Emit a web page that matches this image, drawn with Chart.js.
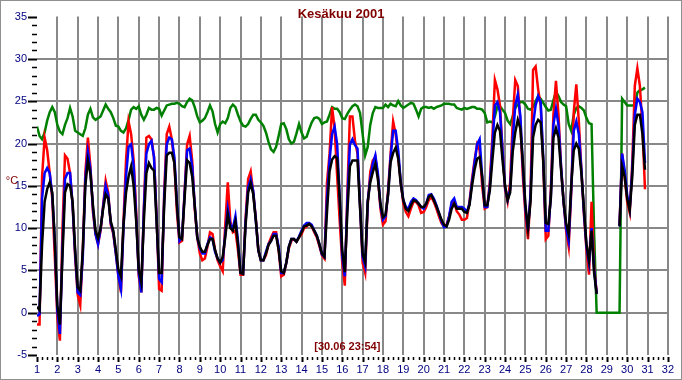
<!DOCTYPE html>
<html><head><meta charset="utf-8">
<script src="https://cdn.jsdelivr.net/npm/chart.js@4.4.0/dist/chart.umd.min.js"></script>
<style>html,body{margin:0;padding:0;background:#fff;overflow:hidden}canvas{display:block}</style>
</head><body>
<canvas id="c" width="682" height="380"></canvas>
<script>
const chartTitle = 'Kesäkuu 2001';
const yTitle = '°C';
const stamp = '[30.06 23:54]';
const days = [1,2,3,4,5,6,7,8,9,10,11,12,13,14,15,16,17,18,19,20,21,22,23,24,25,26,27,28,29,30];
const hours = [0,3,6,9,12,15,18,21];
const xTicks = [1,2,3,4,5,6,7,8,9,10,11,12,13,14,15,16,17,18,19,20,21,22,23,24,25,26,27,28,29,30,31,32];
const yTicks = [-5,0,5,10,15,20,25,30,35];

const blackT = [
0.7,0.3,8.1,13.1,14.6,15.4,14.2,8.5,
0.9,-1.4,6.6,14.2,15.2,15.0,13.1,7.4,
3.0,2.6,7.4,15.0,18.0,16.4,12.7,9.7,
8.8,10.0,12.3,14.0,13.5,10.8,9.7,7.4,
5.1,4.3,10.4,14.2,16.1,17.3,15.0,10.8,
5.1,3.6,10.8,16.5,17.7,17.1,16.8,10.8,
4.7,4.7,12.7,18.6,18.9,18.9,17.7,12.7,
8.9,8.7,13.5,18.0,17.7,16.1,12.7,8.9,
7.8,7.2,7.2,8.0,8.7,8.7,7.4,6.4,
5.9,6.6,8.9,11.6,10.0,9.7,10.8,8.1,
4.7,4.6,10.4,14.2,15.3,14.0,11.0,7.4,
6.2,6.2,7.0,8.0,8.5,9.1,9.1,7.4,
4.9,4.7,5.9,7.8,8.7,8.7,8.4,8.9,
9.5,10.2,10.3,10.5,10.2,9.7,9.1,8.1,
7.0,6.6,11.9,16.7,18.1,18.5,18.3,13.5,
7.4,4.8,11.9,17.3,18.0,18.0,18.0,12.3,
7.0,6.0,13.1,15.4,16.6,17.6,15.8,12.9,
11.3,11.6,13.9,17.8,18.9,19.5,18.2,15.2,
13.3,12.3,12.0,12.7,13.3,13.2,12.9,12.5,
12.5,12.9,13.7,13.9,13.3,12.6,11.8,11.0,
10.4,10.2,11.0,12.3,12.9,12.3,12.3,12.3,
11.9,11.8,12.7,15.0,16.9,18.2,18.4,16.1,
12.7,12.7,14.4,18.0,21.3,22.2,21.5,18.0,
15.0,13.3,14.2,19.0,21.3,22.8,21.8,17.7,
12.7,10.0,13.1,20.7,22.2,22.8,22.5,18.0,
10.6,10.5,13.5,20.7,21.8,20.7,16.9,13.1,
10.6,9.3,15.0,19.2,20.0,19.4,16.5,12.3,
8.1,6.2,9.7,4.7,2.2,null,null,null,
null,null,null,null,null,10.2,17.3,16.1,
13.5,12.1,16.1,22.2,23.4,23.4,21.1,16.9];

const redT = [
-1.4,-1.4,16.1,20.7,19.2,16.5,13.5,6.6,
-0.6,-3.3,9.7,18.6,18.2,16.5,12.7,6.6,
2.1,0.9,7.4,16.5,20.7,17.3,11.9,9.3,
8.1,9.7,12.7,15.6,14.2,10.4,9.3,7.0,
4.3,2.4,10.8,18.0,22.6,21.1,18.0,11.9,
4.3,2.4,12.3,20.7,20.9,20.5,18.4,11.5,
2.8,2.6,14.2,21.1,22.0,20.5,17.7,11.9,
8.3,8.5,14.2,19.9,20.9,18.0,12.3,8.9,
7.0,6.2,6.4,7.8,9.5,9.3,7.4,6.2,
5.5,4.9,10.4,15.4,10.8,9.5,9.7,7.4,
4.5,4.5,11.2,15.8,16.7,14.2,11.2,7.4,
6.2,6.2,6.8,8.1,8.9,9.5,9.5,7.4,
4.3,4.5,5.9,7.6,8.5,8.7,8.4,8.9,
9.3,10.0,10.2,10.5,10.2,9.5,8.9,7.9,
6.8,6.4,15.4,18.8,24.3,21.8,16.1,10.8,
5.9,3.2,14.2,23.2,23.2,20.3,18.8,12.7,
5.9,4.7,12.7,16.6,18.0,18.4,16.1,12.3,
10.4,10.8,14.4,18.8,22.6,21.1,18.4,15.4,
12.9,11.9,11.4,12.3,13.1,13.1,12.7,11.8,
11.9,12.5,13.3,13.7,13.1,12.3,11.4,10.6,
10.2,10.4,11.4,12.7,13.1,12.0,11.6,11.0,
11.0,11.2,13.1,15.8,18.0,19.9,19.2,15.0,
12.3,12.5,15.4,20.7,27.5,26.4,24.5,19.2,
14.6,13.1,15.4,22.6,27.5,26.8,22.6,16.1,
11.6,8.7,13.9,28.7,29.1,26.4,24.5,17.7,
8.7,9.1,14.6,23.4,27.4,23.4,17.3,13.1,
9.7,7.8,14.2,23.7,27.0,22.6,16.9,11.6,
7.4,4.5,13.1,5.5,2.4,null,null,null,
null,null,null,null,null,10.4,18.8,16.1,
13.1,11.8,17.7,26.8,28.9,26.8,21.8,14.6];

const blueT = [
-0.4,-0.2,13.5,16.5,17.1,16.5,13.9,8.5,
0.2,-2.5,7.4,15.8,16.5,16.5,12.7,7.0,
2.4,2.1,6.6,15.8,19.0,16.9,12.3,9.3,
8.1,9.9,12.5,15.0,13.9,10.6,9.5,7.0,
4.3,2.8,10.0,16.1,19.6,19.9,17.3,11.2,
4.7,2.4,12.0,18.8,19.9,20.3,18.4,11.2,
4.0,3.6,13.5,19.9,20.7,20.5,18.4,13.1,
8.5,8.9,13.9,19.2,19.4,17.3,12.7,8.9,
7.6,7.0,7.0,8.1,8.9,8.7,7.2,6.4,
5.9,6.2,9.3,12.3,10.4,10.0,11.4,8.5,
4.7,4.6,10.8,14.8,15.8,14.4,11.0,7.4,
6.2,6.2,7.2,8.1,8.5,9.3,9.3,7.8,
4.7,4.7,5.9,7.8,8.7,8.7,8.4,9.0,
9.7,10.3,10.6,10.6,10.4,9.7,9.1,8.1,
6.9,6.6,13.5,18.0,21.1,22.0,19.9,13.5,
6.6,4.3,13.1,19.9,20.5,19.8,19.4,12.7,
6.6,5.5,13.1,15.8,17.6,18.6,16.5,12.7,
11.0,11.4,14.0,18.4,21.5,21.5,19.2,15.4,
13.3,12.5,12.3,13.1,13.5,13.3,12.9,12.5,
12.3,12.9,13.9,14.0,13.5,12.7,11.8,10.8,
10.1,10.2,11.4,13.1,13.5,12.5,12.5,12.5,
12.3,11.9,12.9,15.4,17.7,19.9,20.5,16.1,
12.5,12.5,14.9,19.6,24.5,24.9,23.7,19.2,
14.8,13.3,14.6,20.4,24.5,25.8,23.3,17.3,
12.3,9.7,14.0,22.2,24.5,25.6,24.9,18.4,
9.7,9.7,13.9,22.2,24.1,22.2,17.3,13.1,
10.0,8.5,14.6,21.5,22.6,21.1,16.9,11.9,
7.8,5.9,10.0,5.1,2.3,null,null,null,
null,null,null,null,null,10.2,18.8,16.9,
13.9,12.3,16.9,23.4,25.3,24.9,23.7,17.7];

const greenT = [
22.0,20.9,20.5,21.3,22.7,23.7,24.3,23.7,
22.2,21.4,21.1,22.2,23.0,24.2,23.2,21.5,
21.3,21.1,20.9,21.8,23.4,24.1,23.1,22.8,
23.0,23.2,23.9,24.6,24.1,23.7,23.0,22.1,
22.0,21.5,21.3,21.8,22.8,24.0,24.3,24.1,
24.4,23.4,22.8,23.4,24.2,24.0,24.0,24.2,
24.1,23.3,23.9,24.5,24.6,24.7,24.7,24.8,
24.7,24.4,24.3,24.9,25.3,25.1,24.3,23.2,
22.5,22.7,23.0,23.7,24.5,23.8,22.3,21.3,
22.3,22.6,22.4,23.0,24.2,24.6,24.3,23.4,
22.6,22.1,22.0,22.3,22.9,23.4,23.4,22.8,
22.5,22.1,21.3,20.2,19.3,19.0,19.6,20.9,
22.3,22.4,21.7,20.5,20.0,20.2,21.2,22.3,
21.3,20.6,20.8,21.7,22.5,23.0,23.1,22.9,
22.3,22.5,22.6,23.4,24.3,24.1,24.1,23.7,
23.0,22.9,23.5,24.0,24.4,24.6,24.4,23.6,
21.1,18.6,19.6,22.2,23.6,24.3,24.2,24.2,
24.2,24.6,24.3,24.7,24.5,24.4,25.0,24.5,
24.2,24.4,24.6,24.8,24.7,24.0,23.2,24.1,
24.3,24.3,24.2,24.3,24.1,24.3,24.4,24.5,
24.7,24.7,24.7,24.6,24.6,24.2,24.1,24.0,
24.2,24.1,24.2,24.3,24.3,24.1,24.1,24.0,
23.6,22.5,22.6,22.5,23.2,24.4,24.4,24.0,
23.6,22.7,22.3,23.2,24.2,24.6,24.9,24.9,
24.6,24.1,24.0,24.3,25.0,25.6,25.3,24.8,
24.3,23.9,24.0,25.1,26.1,25.6,24.9,24.6,
24.4,22.3,21.5,23.4,24.2,24.4,24.2,23.9,
23.0,22.4,22.3,9.4,0,0,0,0,
0,0,0,0,0,0,25.3,24.9,
24.5,24.5,24.5,24.5,26.0,26.3,26.4,26.6];

const times = [];
days.forEach(d => hours.forEach(h => times.push(d + h / 24)));
const pts = vals => times.map((t, i) => ({x: t, y: vals[i]}));

const FONT = '"Liberation Sans", Arial, sans-serif';
const GRID = '#888888';

const decor = {
  id: 'decor',
  beforeDraw(chart) {
    const c = chart.ctx;
    c.save(); c.fillStyle = '#fff'; c.fillRect(0, 0, chart.width, chart.height); c.restore();
  },
  afterDraw(chart) {
    const c = chart.ctx, xs = chart.scales.x, ys = chart.scales.y, a = chart.chartArea;
    c.save();
    c.strokeStyle = '#000';
    for (let v = yTicks[0]; v <= yTicks[yTicks.length - 1]; v++) {
      const y = Math.round(ys.getPixelForValue(v)) + 0.5;
      const major = v % 5 === 0;
      c.lineWidth = major ? 2 : 1.5;
      c.beginPath(); c.moveTo(major ? 28 : 32, y); c.lineTo(a.left, y); c.stroke();
    }
    for (let d = xTicks[0]; d <= xTicks[xTicks.length - 1]; d += 0.25) {
      const x = Math.round(xs.getPixelForValue(d)) + 0.5;
      const major = Math.abs(d - Math.round(d)) < 1e-6;
      c.lineWidth = major ? 2 : 1.5;
      c.beginPath(); c.moveTo(x, a.bottom + 2); c.lineTo(x, a.bottom + (major ? 7 : 5)); c.stroke();
    }
    c.fillStyle = '#800000';
    c.textAlign = 'center'; c.textBaseline = 'middle';
    c.font = 'bold 13px ' + FONT;
    c.fillText(chartTitle, 341, 14);
    c.font = 'bold 11px ' + FONT;
    c.fillText(stamp, xs.getPixelForValue(16.25), 347);
    c.font = '11px ' + FONT;
    c.fillText(yTitle, 12, 181);
    c.strokeStyle = '#909090'; c.lineWidth = 1;
    c.strokeRect(0.5, 0.5, chart.width - 1, chart.height - 1);
    c.restore();
  }
};

new Chart(document.getElementById('c'), {
  type: 'line',
  data: {
    datasets: [
      {label: 'musta', data: pts(blackT), borderColor: '#000000'},
      {label: 'sininen', data: pts(blueT), borderColor: '#0000ff'},
      {label: 'punainen', data: pts(redT), borderColor: '#ff0000'},
      {label: 'vihreä', data: pts(greenT), borderColor: '#008000'}
    ]
  },
  options: {
    responsive: false, animation: false, devicePixelRatio: 1,
    layout: {padding: {top: 5, right: 5, left: 0, bottom: 0}},
    plugins: {legend: {display: false}, tooltip: {enabled: false}, title: {display: false}},
    elements: {point: {radius: 0}, line: {borderWidth: 2.5, tension: 0, spanGaps: false}},
    scales: {
      x: {
        type: 'linear', min: 1, max: 32,
        afterBuildTicks: s => { s.ticks = xTicks.map(v => ({value: v})); },
        afterFit: s => { s.height = 25; },
        ticks: {color: '#000080', font: {family: FONT, size: 11}, padding: 8, maxRotation: 0, autoSkip: false},
        grid: {color: ctx => ctx.tick && ctx.tick.value === 1 ? 'rgba(0,0,0,0)' : GRID, lineWidth: 2, drawTicks: false},
        border: {display: false}
      },
      y: {
        min: -5, max: 35,
        afterBuildTicks: s => { s.ticks = yTicks.map(v => ({value: v})); },
        afterFit: s => { s.width = 37; },
        ticks: {color: '#000080', font: {family: FONT, size: 11}, padding: 10},
        grid: {color: ctx => ctx.tick && (ctx.tick.value === -5 || ctx.tick.value === 35) ? 'rgba(0,0,0,0)' : GRID, lineWidth: 2, drawTicks: false},
        border: {display: false}
      }
    }
  },
  plugins: [decor]
});
</script>
</body></html>
